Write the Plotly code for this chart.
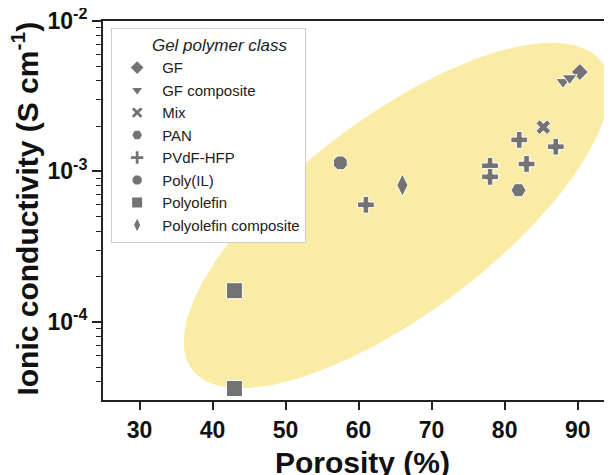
import numpy as np
import plotly.graph_objects as go

# ---- data ----
classes = ["GF", "GF composite", "Mix", "PAN", "PVdF-HFP", "Poly(IL)",
           "Polyolefin", "Polyolefin composite"]
porosity = {
    "GF": [90.3],
    "GF composite": [88.0, 88.9],
    "Mix": [85.3],
    "PAN": [81.9],
    "PVdF-HFP": [61.0, 78.0, 78.0, 82.0, 83.0, 87.0],
    "Poly(IL)": [57.5],
    "Polyolefin": [43.0, 43.0],
    "Polyolefin composite": [66.0],
}
conductivity = {
    "GF": [4.58e-3],
    "GF composite": [3.94e-3, 4.18e-3],
    "Mix": [1.97e-3],
    "PAN": [7.5e-4],
    "PVdF-HFP": [6.0e-4, 1.09e-3, 9.2e-4, 1.62e-3, 1.12e-3, 1.46e-3],
    "Poly(IL)": [1.14e-3],
    "Polyolefin": [1.61e-4, 3.6e-5],
    "Polyolefin composite": [8.1e-4],
}
symbols = {
    "GF": "diamond", "GF composite": "triangle-down", "Mix": "x",
    "PAN": "hexagon2", "PVdF-HFP": "cross", "Poly(IL)": "octagon",
    "Polyolefin": "square", "Polyolefin composite": "diamond-tall",
}
sizes = {
    "GF": 13, "GF composite": 13, "Mix": 13, "PAN": 15, "PVdF-HFP": 14,
    "Poly(IL)": 15, "Polyolefin": 16, "Polyolefin composite": 16,
}

x_ticks = [30, 40, 50, 60, 70, 80, 90]
y_ticks = [1e-4, 1e-3, 1e-2]
y_ticktext = ["10<sup>-4</sup>", "10<sup>-3</sup>", "10<sup>-2</sup>"]
x_title = "<b>Porosity (%)</b>"
y_title = "<b>Ionic conductivity (S cm<sup>-1</sup>)</b>"
legend_title = "Gel polymer class"

# highlight ellipse (centre in data units, axes in screen pixels, tilt in degrees)
ell_center_x = 65.2
ell_center_logy = -3.293
ell_a_px, ell_b_px, ell_angle = 256, 98, 37
px_per_x = 7.3
px_per_decade = 150.4

fig = go.Figure()

t = np.linspace(0, 2 * np.pi, 240)
th = np.deg2rad(ell_angle)
dx = ell_a_px * np.cos(t) * np.cos(th) - ell_b_px * np.sin(t) * np.sin(th)
dy = ell_a_px * np.cos(t) * np.sin(th) + ell_b_px * np.sin(t) * np.cos(th)
fig.add_trace(go.Scatter(
    x=ell_center_x + dx / px_per_x,
    y=10 ** (ell_center_logy + dy / px_per_decade),
    mode="lines", fill="toself", fillcolor="#FAEBA5",
    line=dict(width=0), hoverinfo="skip", showlegend=False,
))

for c in classes:
    fig.add_trace(go.Scatter(
        x=porosity[c], y=conductivity[c], mode="markers", name=c,
        marker=dict(symbol=symbols[c], size=sizes[c], color="#737373",
                    line=dict(color="white", width=1)),
    ))

tick_font = dict(family="Liberation Sans, Arial", size=23, color="#111",
                 weight="bold")
fig.update_layout(
    width=612, height=475,
    margin=dict(l=95, r=8, t=13, b=83),
    plot_bgcolor="white", paper_bgcolor="white",
    font=dict(family="Liberation Sans, Arial", color="#111"),
    xaxis=dict(
        range=[25, 94.7], tickvals=x_ticks, ticks="outside", ticklen=8,
        tickwidth=1.5, tickcolor="#222", showline=True, linewidth=2,
        linecolor="#222", mirror=True, showgrid=False, zeroline=False,
        automargin=False, tickfont=tick_font, ticklabeloverflow="allow",
    ),
    yaxis=dict(
        type="log", range=[-4.52, -2], tickvals=y_ticks, ticktext=y_ticktext,
        ticks="outside", ticklen=9, tickwidth=1.5, tickcolor="#222",
        showline=True, linewidth=2, linecolor="#222", showgrid=False,
        zeroline=False, automargin=False, tickfont=tick_font,
        ticklabeloverflow="allow",
        minor=dict(ticks="outside", ticklen=5, tickwidth=1.2, tickcolor="#222",
                   showgrid=False,
                   tickvals=[k * 10.0 ** e for e in (-5, -4, -3) for k in range(2, 10)]),
    ),
    legend=dict(
        x=0.016, y=0.981, xanchor="left", yanchor="top",
        bgcolor="white", bordercolor="#cccccc", borderwidth=1,
        font=dict(family="Liberation Sans, Arial", size=15, color="#222"),
        itemsizing="constant", itemwidth=40,
        title=dict(text="<i>" + "\u00a0" * 8 + legend_title + "</i>",
                   font=dict(size=17)),
    ),
    annotations=[
        dict(text=x_title, xref="paper", yref="paper", x=0.509, y=-0.166,
             xanchor="center", yanchor="middle", showarrow=False,
             font=dict(family="Liberation Sans, Arial", size=30, color="#111")),
        dict(text=y_title, xref="paper", yref="paper", x=0, y=0.505,
             xshift=-78, xanchor="center", yanchor="middle", showarrow=False,
             textangle=-90,
             font=dict(family="Liberation Sans, Arial", size=30, color="#111")),
    ],
)

fig.write_html("out.html")
